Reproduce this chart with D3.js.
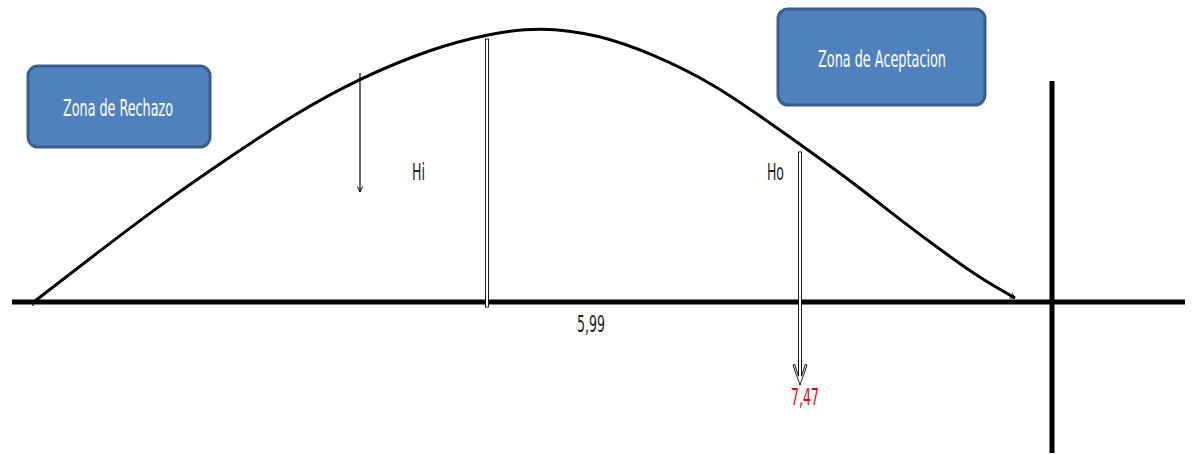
<!DOCTYPE html>
<html>
<head>
<meta charset="utf-8">
<script src="https://cdn.jsdelivr.net/npm/d3@7"></script>
<style>
  body { margin: 0; background: #fff; }
  svg { display: block; }
  text { font-family: "Liberation Sans Narrow", "DejaVu Sans Condensed", "Liberation Sans", sans-serif; }
</style>
</head>
<body>
<svg id="chart" width="1192" height="454"></svg>
<script>
// curve: x in page units (1 unit = 10px), y as % of peak height
const curveX = [3.5, 9.7, 16.3, 23.0, 29.3, 36.0, 43.3, 48.7, 54.0, 60.0, 65.0, 71.3, 78.0, 85.0, 90.0, 95.0, 98.3, 101.5]
const curveY = [0, 17.5, 35.8, 52.6, 67.9, 81.4, 92.3, 97.4, 100.2, 97.1, 90.5, 79.6, 62.4, 44.2, 29.6, 16.1, 7.7, 1.1]

const zones = ['Zona de Rechazo', 'Zona de Aceptacion']
const hypotheses = ['Hi', 'Ho']
const values = ['5,99', '7,47']

const width = 1192, height = 454

const x = d3.scaleLinear().domain([0, 119.2]).range([0, width])
const y = d3.scaleLinear().domain([0, 100]).range([301, 27])

const svg = d3.select('#chart')

const defs = svg.append('defs')
defs.append('marker')
  .attr('id', 'thinArrow')
  .attr('viewBox', '0 0 10 10')
  .attr('refX', 9).attr('refY', 5)
  .attr('markerWidth', 7).attr('markerHeight', 7)
  .attr('markerUnits', 'userSpaceOnUse')
  .attr('orient', 'auto')
  .append('path')
  .attr('d', 'M1,1 L9,5 L1,9')
  .attr('fill', 'none')
  .attr('stroke', '#000')
  .attr('stroke-width', 1.4)

defs.append('marker')
  .attr('id', 'curveEnd')
  .attr('viewBox', '0 0 10 10')
  .attr('refX', 9).attr('refY', 5)
  .attr('markerWidth', 7).attr('markerHeight', 7)
  .attr('markerUnits', 'userSpaceOnUse')
  .attr('orient', 'auto')
  .append('path')
  .attr('d', 'M2,1 L9,5 L2,9')
  .attr('fill', 'none')
  .attr('stroke', '#000')
  .attr('stroke-width', 1.2)

// baseline
svg.append('line')
  .attr('x1', x(1.2)).attr('x2', x(118.5))
  .attr('y1', y(0) + 1).attr('y2', y(0) + 1)
  .attr('stroke', '#000')
  .attr('stroke-width', 5)

// vertical thick line
svg.append('line')
  .attr('x1', x(105.2)).attr('x2', x(105.2))
  .attr('y1', y(80.3)).attr('y2', y(-55.5))
  .attr('stroke', '#000')
  .attr('stroke-width', 5)

// bell curve
const points = curveX.map((d, i) => [d, curveY[i]])
const line = d3.line()
  .x(d => x(d[0]))
  .y(d => y(d[1]))
  .curve(d3.curveBasis)

svg.append('path')
  .datum(points)
  .attr('d', line)
  .attr('fill', 'none')
  .attr('stroke', '#000')
  .attr('stroke-width', 3)
  .attr('marker-end', 'url(#curveEnd)')

// small tick at curve start
svg.append('line')
  .attr('x1', x(3.3)).attr('x2', x(3.3))
  .attr('y1', y(0)).attr('y2', y(0) + 5)
  .attr('stroke', '#000')
  .attr('stroke-width', 1.2)

// Hi double line (hollow bar)
svg.append('rect')
  .attr('x', x(48.7) - 1.5)
  .attr('y', y(95.6))
  .attr('width', 3)
  .attr('height', y(-2.2) - y(95.6))
  .attr('fill', '#fff')
  .attr('stroke', '#000')
  .attr('stroke-width', 0.9)

// thin arrow under the curve
svg.append('line')
  .attr('x1', x(36)).attr('x2', x(36))
  .attr('y1', y(83.2)).attr('y2', y(39.8))
  .attr('stroke', '#000')
  .attr('stroke-width', 1.2)
  .attr('marker-end', 'url(#thinArrow)')

// hollow arrow to 7,47
const hx = x(80), hTop = y(54.4), hTip = y(-30.7)
const ho = d3.path()
ho.moveTo(hx - 1.5, hTop)
ho.lineTo(hx - 1.5, hTip - 9)
ho.lineTo(hx - 5.5, hTip - 21)
ho.lineTo(hx - 7, hTip - 20)
ho.lineTo(hx, hTip)
ho.lineTo(hx + 7, hTip - 20)
ho.lineTo(hx + 5.5, hTip - 21)
ho.lineTo(hx + 1.5, hTip - 9)
ho.lineTo(hx + 1.5, hTop)
ho.closePath()
svg.append('path')
  .attr('d', ho.toString())
  .attr('fill', '#fff')
  .attr('stroke', '#000')
  .attr('stroke-width', 0.9)

// zone boxes
const boxes = [
  {x0: 2.8, x1: 21.0, y0: 85.8, y1: 56.2, tx: 11.8, ty: 67.5, len: 110},
  {x0: 77.8, x1: 98.5, y0: 106.6, y1: 71.5, tx: 88.2, ty: 85.4, len: 128}
]
boxes.forEach((b, i) => {
  svg.append('rect')
    .attr('x', x(b.x0)).attr('y', y(b.y0))
    .attr('width', x(b.x1) - x(b.x0))
    .attr('height', y(b.y1) - y(b.y0))
    .attr('rx', 10).attr('ry', 10)
    .attr('fill', '#4F81BD')
    .attr('stroke', '#3A5F8C')
    .attr('stroke-width', 3)

  svg.append('text')
    .attr('x', x(b.tx)).attr('y', y(b.ty))
    .attr('text-anchor', 'middle')
    .attr('font-size', '23px')
    .attr('textLength', b.len)
    .attr('lengthAdjust', 'spacingAndGlyphs')
    .attr('fill', '#fff')
    .text(zones[i])
})

// hypothesis labels
const hypPos = [{tx: 41.2, len: 13}, {tx: 76.7, len: 17}]
hypPos.forEach((p, i) => {
  svg.append('text')
    .attr('x', x(p.tx)).attr('y', y(44.2))
    .attr('font-size', '23px')
    .attr('textLength', p.len)
    .attr('lengthAdjust', 'spacingAndGlyphs')
    .attr('fill', '#222')
    .text(hypotheses[i])
})

// value labels
const valPos = [{tx: 59.1, ty: -11.3, color: '#222'}, {tx: 80.5, ty: -38.0, color: '#FF0000'}]
valPos.forEach((p, i) => {
  svg.append('text')
    .attr('x', x(p.tx)).attr('y', y(p.ty))
    .attr('text-anchor', 'middle')
    .attr('font-size', '23px')
    .attr('textLength', 28)
    .attr('lengthAdjust', 'spacingAndGlyphs')
    .attr('fill', p.color)
    .text(values[i])
})
</script>
</body>
</html>
